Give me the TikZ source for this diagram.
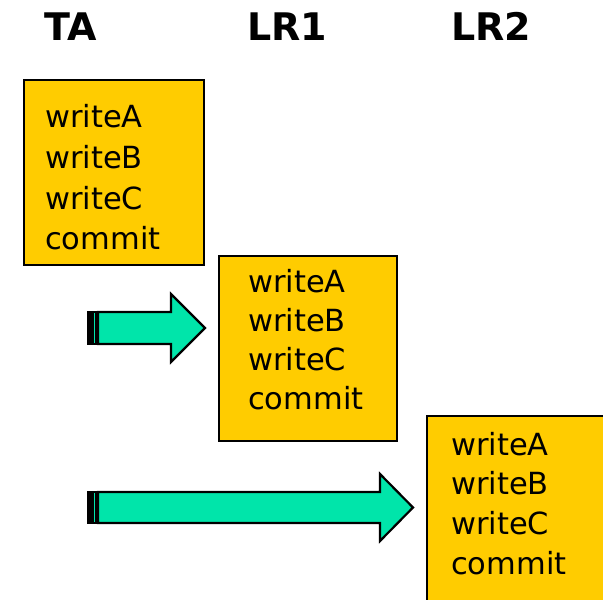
\documentclass[tikz,border=0pt]{standalone}
\usepackage{fontspec}
\setmainfont{DejaVu Sans}
\definecolor{boxyellow}{RGB}{255,204,0}
\definecolor{arrgreen}{RGB}{0,229,170}
\begin{document}
\begin{tikzpicture}[x=1bp,y=-1bp,
  opbox/.style={draw=black,line width=2.2bp,fill=boxyellow},
  optext/.style={anchor=base west,inner sep=0pt,font=\fontsize{30.5bp}{40bp}\selectfont},
  head/.style={anchor=base west,inner sep=0pt,font=\fontsize{38bp}{40bp}\selectfont\bfseries},
  arrowshape/.style={draw=black,line width=2.2bp,fill=arrgreen,line join=miter}]
\useasboundingbox (0,0) rectangle (603,600);
\clip (0,0) rectangle (603,600);
% headings
\node[head] (hTA) at (44,41) {TA};
\node[head] (hLR1) at (247,41) {LR1};
\node[head] (hLR2) at (451,41) {LR2};
% boxes
\draw[opbox] (24,80) rectangle (204,265);
\draw[opbox] (219,256) rectangle (397,441);
\draw[opbox] (427,416) rectangle (640,640);
% box texts
\foreach \t [count=\i from 0] in {writeA,writeB,writeC,commit}{
  \node[optext] (a\i) at (45,{128+40.6*\i}) {\t};
  \node[optext] (b\i) at (248,{292+39.3*\i}) {\t};
  \node[optext] (c\i) at (451,{455+39.7*\i}) {\t};
}
% arrow 1
\fill[black] (86.5,311) rectangle (92,345);
\draw[arrowshape] (93,312) rectangle (96.5,344);
\draw[arrowshape] (98,312) -- (171,312) -- (171,294) -- (205,328) -- (171,362) -- (171,344) -- (98,344) -- cycle;
% arrow 2
\fill[black] (86.5,491) rectangle (92,524);
\draw[arrowshape] (93,492) rectangle (96.5,523);
\draw[arrowshape] (98,492) -- (380,492) -- (380,474) -- (413,507.5) -- (380,541) -- (380,523) -- (98,523) -- cycle;
\end{tikzpicture}
\end{document}
